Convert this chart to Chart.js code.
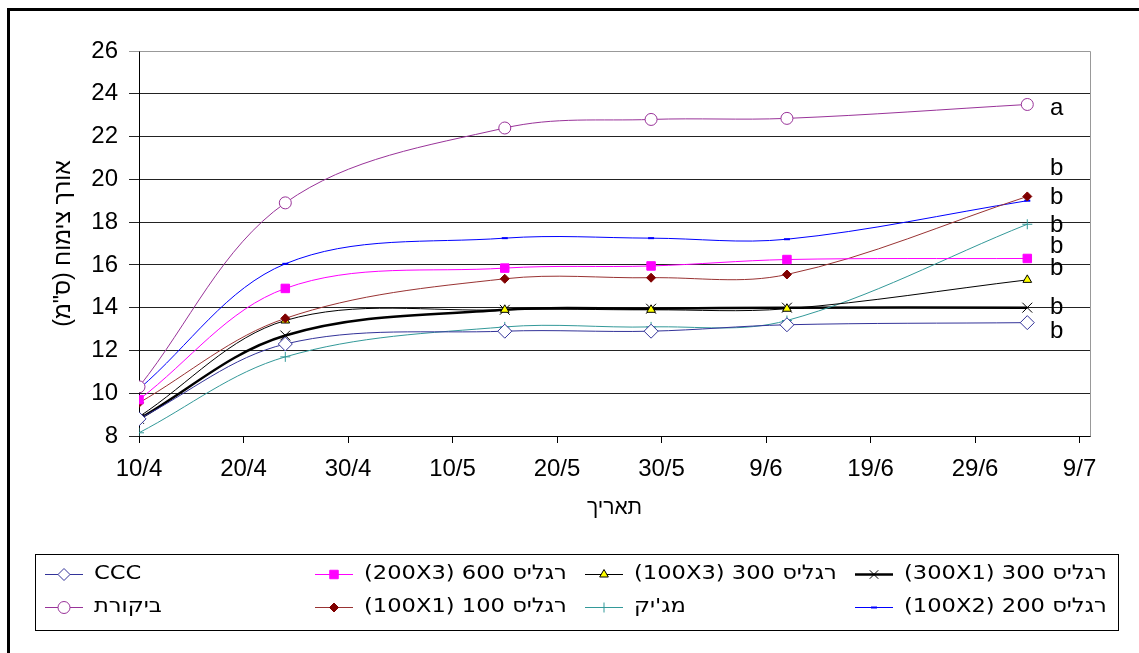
<!DOCTYPE html>
<html lang="he">
<head>
<meta charset="utf-8">
<title>אורך צימוח</title>
<script src="https://cdn.jsdelivr.net/npm/chart.js@4"></script>
<style>
  html, body { margin: 0; padding: 0; background: #fff; }
  #wrap { position: relative; width: 1139px; height: 653px; }
</style>
</head>
<body>
<div id="wrap"><canvas id="growthChart" width="1139" height="653"></canvas></div>
<script>
// sampling dates, as days after 10/4 (10/4, 24/4, 15/5, 29/5, 11/6, 4/7)
const sampleDays = [0, 14, 35, 49, 62, 85];
// x tick labels, one every 10 days from 10/4
const xTickLabels = ['10/4', '20/4', '30/4', '10/5', '20/5', '30/5', '9/6', '19/6', '29/6', '9/7'];

const seriesNames = ['CCC', 'ביקורת', 'רגליס 600 (200X3)', 'רגליס 100 (100X1)',
                     'רגליס 300 (100X3)', "מג'יק", 'רגליס 300 (300X1)', 'רגליס 200 (100X2)'];

const cccValues        = [8.8, 12.3, 12.9, 12.9, 13.2, 13.3];
const controlValues    = [10.3, 18.9, 22.4, 22.8, 22.85, 23.5];
const regalis600Values = [9.7, 14.9, 15.85, 15.95, 16.25, 16.3];
const regalis100Values = [9.55, 13.5, 15.35, 15.4, 15.55, 19.2];
const regalis300x3Values = [8.9, 13.4, 13.9, 13.9, 13.95, 15.3];
const magicValues      = [8.15, 11.7, 13.1, 13.1, 13.4, 17.9];
const regalis300x1Values = [8.8, 12.7, 13.9, 13.95, 14.0, 14.0];
const regalis200Values = [10.2, 16.05, 17.25, 17.25, 17.2, 19.0];

// significance letters written at the right end of the lines
const sigLetters = ['a', 'b', 'b', 'b', 'b', 'b', 'b', 'b'];
const sigLevels  = [23.3, 20.5, 19.15, 17.85, 16.85, 15.85, 14.0, 12.9];
const sigDay = 87.8;

const allValues = [cccValues, controlValues, regalis600Values, regalis100Values,
                   regalis300x3Values, magicValues, regalis300x1Values, regalis200Values];

// look of each series (same order as seriesNames)
const styles = [
  { line: '#333399', width: 1, point: 'rectRot', r: 7, fill: '#ffffff', stroke: '#333399' },
  { line: '#993399', width: 1, point: 'circle', r: 6, fill: '#ffffff', stroke: '#993399' },
  { line: '#ff00ff', width: 1, point: 'rect', r: 6, fill: '#ff00ff', stroke: '#ff00ff' },
  { line: '#993333', width: 1, point: 'rectRot', r: 4.5, fill: '#800000', stroke: '#800000' },
  { line: '#000000', width: 1, point: 'triangle', r: 5, fill: '#ffff00', stroke: '#000000' },
  { line: '#339999', width: 1, point: 'cross', r: 5, fill: '#339999', stroke: '#339999' },
  { line: '#000000', width: 2.5, point: 'crossRot', r: 7, fill: '#000000', stroke: '#000000' },
  { line: '#0000ff', width: 1, point: 'line', r: 3, fill: '#0000ff', stroke: '#0000ff' }
];

const datasets = seriesNames.map((name, i) => ({
  label: name,
  data: sampleDays.map((d, j) => ({ x: d, y: allValues[i][j] })),
  borderColor: styles[i].line,
  borderWidth: styles[i].width,
  pointStyle: styles[i].point,
  pointRadius: styles[i].r,
  pointBackgroundColor: styles[i].fill,
  pointBorderColor: styles[i].stroke,
  pointBorderWidth: styles[i].point === 'line' ? 2 : 1,
  tension: 0.35,
  fill: false
}));

Chart.defaults.font.family = "'Liberation Sans', Arial, sans-serif";
Chart.defaults.color = '#000';

// white page with the heavy frame on the top and left
const frame = {
  id: 'frame',
  beforeDraw(chart) {
    const ctx = chart.ctx;
    ctx.save();
    ctx.fillStyle = '#fff';
    ctx.fillRect(0, 0, chart.width, chart.height);
    ctx.fillStyle = '#000';
    ctx.fillRect(7, 8, chart.width - 7, 3);
    ctx.fillRect(7, 8, 3, chart.height - 8);
    ctx.restore();
  },
  beforeDatasetsDraw(chart) {
    const { ctx, chartArea: a } = chart;
    ctx.save();
    ctx.strokeStyle = '#999';
    ctx.lineWidth = 1;
    ctx.beginPath();
    ctx.moveTo(Math.round(a.left) + 0.5, Math.round(a.top) + 0.5);
    ctx.lineTo(Math.round(a.right) + 0.5, Math.round(a.top) + 0.5);
    ctx.lineTo(Math.round(a.right) + 0.5, Math.round(a.bottom) + 0.5);
    ctx.stroke();
    ctx.restore();
  }
};

const sigLabels = {
  id: 'sigLabels',
  afterDatasetsDraw(chart) {
    const { ctx, scales: { x, y } } = chart;
    ctx.save();
    ctx.font = "24px 'Liberation Sans', Arial, sans-serif";
    ctx.fillStyle = '#000';
    ctx.textAlign = 'center';
    ctx.textBaseline = 'middle';
    sigLetters.forEach((t, i) => {
      ctx.fillText(t, x.getPixelForValue(sigDay), y.getPixelForValue(sigLevels[i]));
    });
    ctx.restore();
  }
};

// legend in a 4 x 2 grid of equal columns like the original, filled column by column
const gridLegend = {
  id: 'gridLegend',
  afterDraw(chart) {
    const ctx = chart.ctx;
    const box = { left: 35, top: 554, right: 1118, bottom: 630 };
    const colW = 270;
    const rowY = [574, 607];
    ctx.save();
    ctx.strokeStyle = '#000';
    ctx.lineWidth = 1;
    ctx.strokeRect(box.left + 0.5, box.top + 0.5, box.right - box.left, box.bottom - box.top);
    ctx.font = "20px 'DejaVu Sans', 'Liberation Sans', sans-serif";
    ctx.textBaseline = 'middle';
    chart.data.datasets.forEach((ds, i) => {
      const x = 45 + colW * Math.floor(i / 2);
      const y = rowY[i % 2];
      ctx.strokeStyle = ds.borderColor;
      ctx.lineWidth = ds.borderWidth;
      ctx.beginPath();
      ctx.moveTo(x, y + 0.5);
      ctx.lineTo(x + 38, y + 0.5);
      ctx.stroke();
      ctx.fillStyle = ds.pointBackgroundColor;
      ctx.strokeStyle = ds.pointBorderColor;
      ctx.lineWidth = ds.pointBorderWidth;
      if (Chart.helpers && Chart.helpers.drawPoint) {
        Chart.helpers.drawPoint(ctx, {
          pointStyle: ds.pointStyle,
          radius: Math.min(ds.pointRadius, 6),
          borderWidth: ds.pointBorderWidth,
          rotation: 0
        }, x + 19, y + 0.5);
      }
      // the original legend text is a little wider than the font, stretch it
      ctx.save();
      ctx.translate(x + 49, y);
      ctx.scale(1.13, 1);
      ctx.fillStyle = '#000';
      ctx.direction = 'rtl';
      ctx.textAlign = 'left';
      ctx.fillText(ds.label, 0, 0);
      ctx.restore();
    });
    ctx.restore();
  }
};

new Chart(document.getElementById('growthChart'), {
  type: 'line',
  data: { datasets },
  plugins: [frame, sigLabels, gridLegend],
  options: {
    responsive: false,
    animation: false,
    layout: { padding: { left: 40, top: 51, right: 49, bottom: 113 } },
    plugins: {
      legend: { display: false },
      tooltip: { enabled: false }
    },
    scales: {
      x: {
        type: 'linear',
        min: 0,
        max: 91,
        afterFit: (scale) => { scale.height = 104; },
        afterBuildTicks: (scale) => {
          scale.ticks = scale.ticks.filter(t => t.value % 10 === 0);
        },
        ticks: {
          stepSize: 10,
          includeBounds: false,
          autoSkip: false,
          maxRotation: 0,
          padding: 12,
          font: { size: 24 },
          callback: (v) => xTickLabels[v / 10]
        },
        grid: { drawOnChartArea: false, drawTicks: true, tickLength: 7, color: '#000' },
        border: { color: '#000', width: 1 },
        title: {
          display: true,
          text: 'תאריך',
          font: { size: 21 },
          padding: { top: 0, bottom: 19 }
        }
      },
      y: {
        min: 8,
        max: 26,
        afterFit: (scale) => { scale.width = 99; },
        ticks: {
          stepSize: 2,
          padding: 11,
          font: { size: 24 }
        },
        grid: {
          tickLength: 10,
          color: (c) => (c.tick && c.tick.value === 26 ? '#999' : '#222'),
          lineWidth: 1
        },
        border: { color: '#000', width: 1 },
        title: {
          display: true,
          text: 'אורך צימוח (ס"מ)',
          font: { size: 23 },
          padding: { top: 10, bottom: 0 }
        }
      }
    }
  }
});
</script>
</body>
</html>
